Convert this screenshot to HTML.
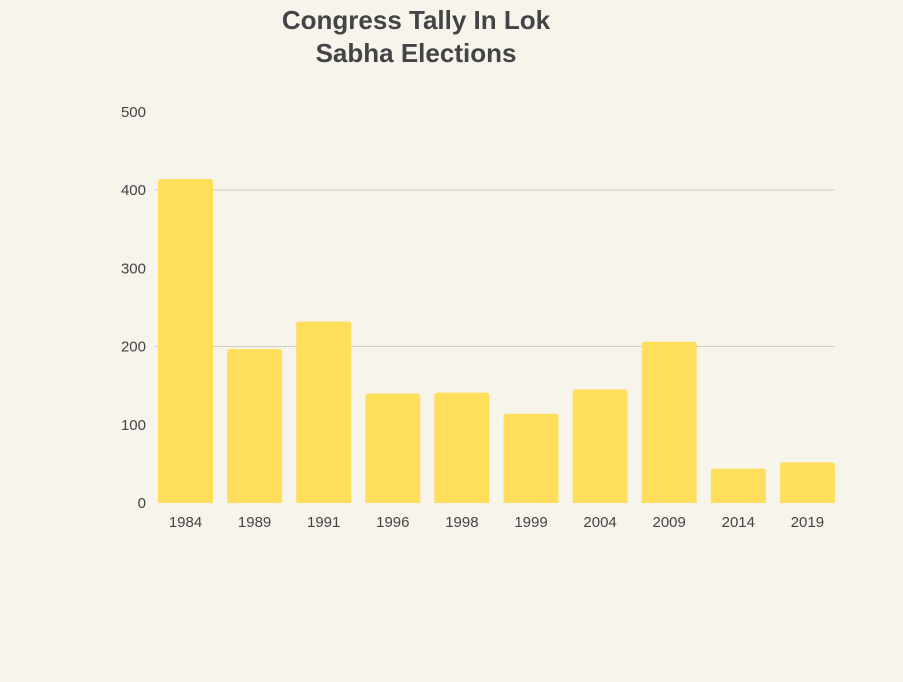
<!DOCTYPE html>
<html>
<head>
<meta charset="utf-8">
<style>
  html,body{margin:0;padding:0;background:#f7f4ec;}
  body{width:903px;height:677px;overflow:hidden;font-family:"Liberation Sans",sans-serif;}
</style>
</head>
<body>
<svg id="chart" width="903" height="677" xmlns="http://www.w3.org/2000/svg">
  <rect x="0" y="0" width="903" height="677" fill="#f7f4ec"/>
  <text x="416" y="29" text-anchor="middle" font-size="26" font-weight="bold" fill="#444346">Congress Tally In Lok</text>
  <text x="416" y="62" text-anchor="middle" font-size="26" font-weight="bold" fill="#444346">Sabha Elections</text>
  <g id="grid"></g>
  <g id="yticks"></g>
  <g id="bars"></g>
  <g id="xticks"></g>
</svg>
<script>
const categories = ["1984","1989","1991","1996","1998","1999","2004","2009","2014","2019"];
const seats = [414, 197, 232, 140, 141, 114, 145, 206, 44, 52];
const yTicks = [0, 100, 200, 300, 400, 500];
const gridValues = [200, 400];

const NS = "http://www.w3.org/2000/svg";
const y0 = 503, pxPer = 313 / 400;
function yScale(v){ return y0 - v * pxPer; }
const xStart = 158, step = 69.1, barW = 55;
function xScale(i){ return xStart + i * step; }

const grid = document.getElementById("grid");
gridValues.forEach(v => {
  const l = document.createElementNS(NS, "line");
  
  
  l.setAttribute("x1", 155); l.setAttribute("x2", 835);
  l.setAttribute("y1", yScale(v)); l.setAttribute("y2", yScale(v));
  l.setAttribute("stroke", "#cfccc4"); l.setAttribute("stroke-width", "1");
  grid.appendChild(l);
});

const yt = document.getElementById("yticks");
yTicks.forEach(v => {
  const t = document.createElementNS(NS, "text");
  
  
  t.setAttribute("x", 146); t.setAttribute("y", yScale(v) + 5);
  t.setAttribute("text-anchor", "end"); t.setAttribute("font-size", "15");
  t.setAttribute("fill", "#444346");
  t.textContent = v;
  yt.appendChild(t);
});

const bars = document.getElementById("bars");
const xt = document.getElementById("xticks");
categories.forEach((c, i) => {
  const x = xScale(i), top = yScale(seats[i]), h = y0 - top, r = 3;
  const p = document.createElementNS(NS, "path");
  
  
  p.setAttribute("d", `M${x},${y0} L${x},${top + r} Q${x},${top} ${x + r},${top} L${x + barW - r},${top} Q${x + barW},${top} ${x + barW},${top + r} L${x + barW},${y0} Z`);
  p.setAttribute("fill", "#ffde5c");
  bars.appendChild(p);

  const t = document.createElementNS(NS, "text");
  
  
  t.setAttribute("x", x + barW / 2); t.setAttribute("y", 527);
  t.setAttribute("text-anchor", "middle"); t.setAttribute("font-size", "15");
  t.setAttribute("fill", "#444346");
  t.textContent = c;
  xt.appendChild(t);
});
</script>
</body>
</html>
